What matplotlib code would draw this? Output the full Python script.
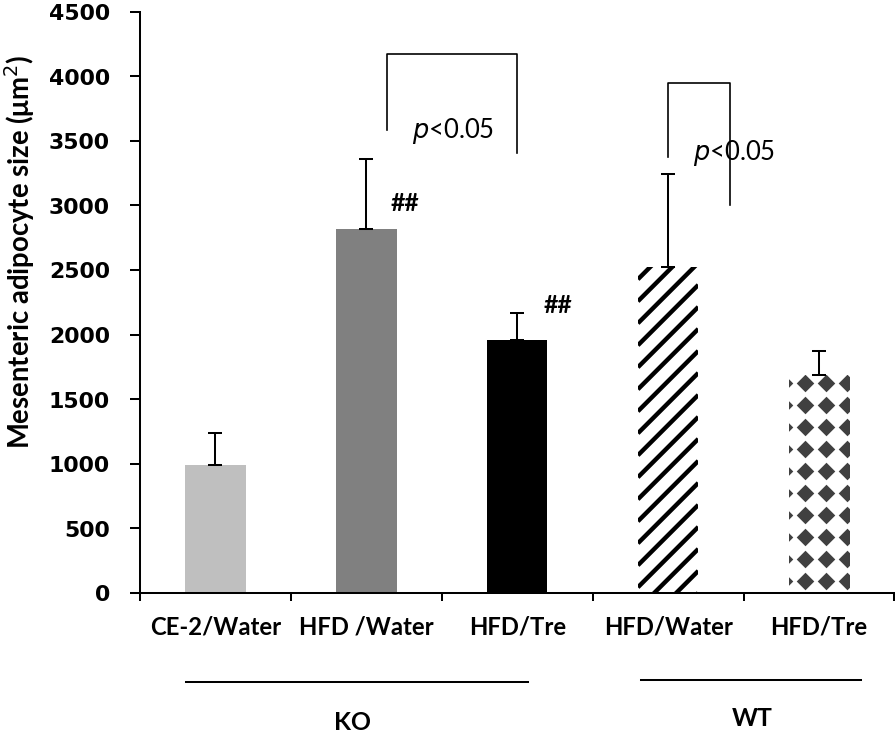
import numpy as np
import matplotlib
matplotlib.use("Agg")
import matplotlib.pyplot as plt
from matplotlib import transforms

# values
groups = ["CE-2/Water", "HFD /Water", "HFD/Tre", "HFD/Water", "HFD/Tre"]
means = [990, 2820, 1960, 2525, 1690]
upper = [1240, 3360, 2165, 3245, 1875]
colors = ["#BFBFBF", "#808080", "#000000", "white", "white"]

DPI = 132
LAB = ["Lato", "DejaVu Sans"]

fig = plt.figure(figsize=(895.4 / DPI, 734.4 / DPI), dpi=DPI)
ax = fig.add_axes([140 / 895, 1 - 593 / 734, 754 / 895, 581 / 734])
ax.set_xlim(-0.5, 4.5)
ax.set_ylim(0, 4500)

x = np.arange(len(groups))
err = np.array(upper) - np.array(means)
bars = ax.bar(x, means, width=0.40, color=colors, linewidth=0, zorder=2)
ax.errorbar(x, means, yerr=[np.zeros(len(x)), err], fmt="none", ecolor="black",
            elinewidth=1.1, capsize=3.6, capthick=1.1, zorder=3)

# pixel scale of the axes, used for the fill patterns
bb = ax.get_window_extent()
px_x = bb.width / 5.0
px_y = bb.height / 4500.0

# diagonal stripes for bar 4
b = bars[3]
period = 22 / px_y
slope = px_x / px_y
x0, x1 = b.get_x(), b.get_x() + b.get_width()
for y0 in np.arange(-slope * b.get_width(), b.get_height() + period, period):
    ln, = ax.plot([x0, x1], [y0, y0 + slope * (x1 - x0)], color="black",
                  lw=2.4, solid_capstyle="butt", zorder=2.5)
    ln.set_clip_path(b)

# diamond fill for bar 5
b = bars[4]
dx = 21 / px_x
dy = 22 / px_y
xs = np.arange(b.get_x() - 0.03, b.get_x() + b.get_width() + dx, dx)
ys = np.arange(95, b.get_height() + dy, dy)
gx, gy = np.meshgrid(xs, ys)
dm = ax.scatter(gx.ravel(), gy.ravel(), marker="D", s=46, color="#404040",
                linewidths=0, zorder=2.5)
dm.set_clip_path(b)

ax.set_yticks(np.arange(0, 4501, 500))
ax.tick_params(axis="y", direction="out", length=5.5, width=1.1, pad=11)
for t in ax.get_yticklabels():
    t.set_fontfamily("DejaVu Sans")
    t.set_fontweight("bold")
    t.set_fontsize(12)

ax.set_xticks(x)
ax.set_xticklabels(groups, fontfamily=LAB, fontweight="bold", fontsize=13)
ax.set_xticks(np.arange(-0.5, 4.6, 1), minor=True)
ax.tick_params(axis="x", which="major", length=0, pad=12)
ax.tick_params(axis="x", which="minor", direction="out", length=4.4, width=1.1)

for s in ["top", "right"]:
    ax.spines[s].set_visible(False)
for s in ["left", "bottom"]:
    ax.spines[s].set_linewidth(1.1)

# significance brackets
ax.plot([1.138, 1.138, 2.0, 2.0], [3586, 4175, 4175, 3408], color="black", lw=0.9)
ax.plot([3.0, 3.0, 3.41, 3.41], [3377, 3950, 3950, 3005], color="black", lw=0.9)
for tx, ty in [(1.576, 3580), (3.439, 3408)]:
    ax.text(tx, ty, "$\\it{p}$<0.05", ha="center", va="center",
            fontfamily=LAB, fontsize=14)
for tx, ty in [(1.257, 3021), (2.272, 2231)]:
    ax.text(tx, ty, "##", ha="center", va="center", fontfamily=LAB,
            fontweight="bold", fontsize=13.5)

# genotype groups under the axis
tr = transforms.blended_transform_factory(ax.transData, ax.transAxes)
ax.plot([-0.195, 2.073], [-0.153, -0.153], color="black", lw=1.1,
        transform=tr, clip_on=False)
ax.plot([2.82, 4.28], [-0.150, -0.150], color="black", lw=1.1,
        transform=tr, clip_on=False)
ax.text(0.91, -0.222, "KO", transform=tr, ha="center", va="center",
        fontfamily=LAB, fontweight="bold", fontsize=13.5)
ax.text(3.56, -0.215, "WT", transform=tr, ha="center", va="center",
        fontfamily=LAB, fontweight="bold", fontsize=13.5)

fig.text(20 / 895, 1 - 252 / 734, "Mesenteric adipocyte size (μm$^{2}$)",
         rotation=90, ha="center", va="center", fontfamily=LAB,
         fontweight="bold", fontsize=15)

fig.savefig("out.png", dpi=DPI)
